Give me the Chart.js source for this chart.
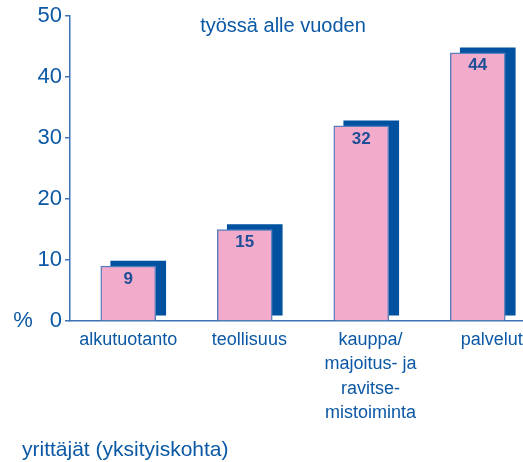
<!DOCTYPE html>
<html>
<head>
<meta charset="utf-8">
<script src="https://cdn.jsdelivr.net/npm/chart.js@4/dist/chart.umd.min.js"></script>
<style>
  html, body { margin: 0; padding: 0; background: #fff; overflow: hidden; }
  #wrap { width: 523px; height: 462px; overflow: hidden; }
</style>
</head>
<body>
<div id="wrap"><canvas id="c" width="536" height="462"></canvas></div>
<script>
/* Share of entrepreneurs in work under a year, by sector. Pink bars with a
   dark blue offset "shadow" copy behind them. */

const categories = [
  ['alkutuotanto'],
  ['teollisuus'],
  ['kauppa/', 'majoitus- ja', 'ravitse-', 'mistoiminta'],
  ['palvelut'],
];
const values = [9, 15, 32, 44];
const yTicks = [0, 10, 20, 30, 40, 50];
const titleText = 'työssä alle vuoden';
const unitText = '%';
const footText = 'yrittäjät (yksityiskohta)';

const BLUE = '#0b58a5';
const AXIS = '#3f72b5';
const FONT = "'Liberation Sans', Arial, sans-serif";

// shadow dataset is drawn by the library, just shifted right/up
const shadowShift = {
  id: 'shadowShift',
  beforeDatasetDraw(chart, args) {
    if (args.index !== 1) return;
    chart.ctx.save();
    chart.ctx.translate(10, -5);
  },
  afterDatasetDraw(chart, args) {
    if (args.index !== 1) return;
    chart.ctx.restore();
  },
};

const annotations = {
  id: 'annotations',
  afterDatasetsDraw(chart) {
    const ctx = chart.ctx;
    const meta = chart.getDatasetMeta(0);
    ctx.save();
    ctx.fillStyle = '#1d4f97';
    ctx.font = 'bold 17px ' + FONT;
    ctx.textAlign = 'center';
    ctx.textBaseline = 'middle';
    meta.data.forEach((bar, i) => ctx.fillText(String(values[i]), bar.x, bar.y + 13));

    ctx.fillStyle = BLUE;
    ctx.font = '20px ' + FONT;
    ctx.fillText(titleText, 283, 26);

    ctx.font = '22px ' + FONT;
    ctx.fillText(unitText, 23, chart.scales.y.getPixelForValue(0));

    ctx.textAlign = 'left';
    ctx.textBaseline = 'alphabetic';
    ctx.font = '21px ' + FONT;
    ctx.fillText(footText, 22, 456);
    ctx.restore();
  },
};

new Chart(document.getElementById('c'), {
  type: 'bar',
  data: {
    labels: categories,
    datasets: [
      {
        data: values,
        backgroundColor: '#f3abcc',
        borderColor: '#5b7fbd',
        borderWidth: 1.5,
        barThickness: 55,
        grouped: false,
        order: 0,
      },
      {
        data: values,
        backgroundColor: '#0052a0',
        borderWidth: 0,
        barThickness: 55,
        grouped: false,
        clip: false,
        order: 1,
      },
    ],
  },
  options: {
    responsive: false,
    animation: false,
    devicePixelRatio: 1,
    layout: { padding: { top: 16, left: 0, right: 0, bottom: 0 } },
    plugins: { legend: { display: false }, tooltip: { enabled: false }, title: { display: false } },
    scales: {
      x: { display: false },
      // label axis: labels sit a little wider apart than the bars
      xl: {
        type: 'linear',
        position: 'bottom',
        offset: false,
        bounds: 'data',
        min: -0.48,
        max: 3.365,
        afterBuildTicks(s) {
          s.ticks = categories.map((_, i) => ({ value: i }));
        },
        afterFit(s) { s.height = 141; },
        grid: { display: false, drawTicks: false, offset: false },
        border: { display: true, color: AXIS, width: 1.5 },
        ticks: {
          autoSkip: false,
          maxRotation: 0,
          padding: 7,
          color: BLUE,
          font: { family: FONT, size: 18, lineHeight: 1.35 },
          callback: (v) => categories[v],
        },
      },
      y: {
        min: 0,
        max: 50,
        afterBuildTicks(s) { s.ticks = yTicks.map(v => ({ value: v })); },
        afterFit(s) { s.width = 70; },
        grid: { drawOnChartArea: false, drawTicks: true, tickLength: 5, color: AXIS, lineWidth: 1.5 },
        border: { display: true, color: AXIS, width: 1.5 },
        ticks: { padding: 3, color: BLUE, font: { family: FONT, size: 22 } },
      },
    },
  },
  plugins: [shadowShift, annotations],
});
</script>
</body>
</html>
